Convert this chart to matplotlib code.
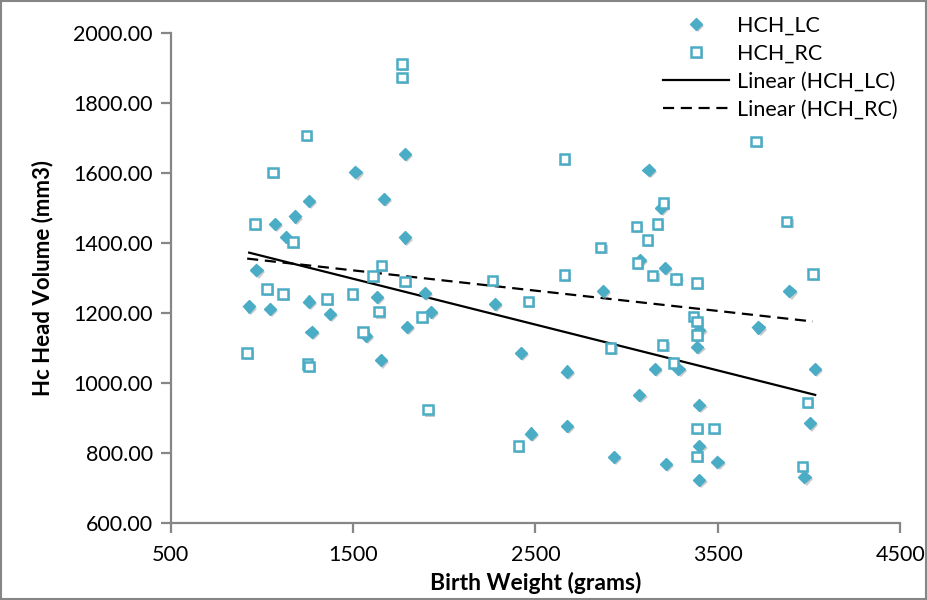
import numpy as np
import matplotlib
matplotlib.use("Agg")
import matplotlib.pyplot as plt
import matplotlib.patheffects as pe
from matplotlib.patches import Rectangle

# HCH_LC (left) values
lc_weight = [930, 970, 1043, 1071, 1131, 1180, 1257, 1259, 1272, 1372,
             1513, 1570, 1629, 1652, 1669, 1784, 1784, 1795, 1894, 1925,
             2278, 2419, 2475, 2674, 2674, 2872, 2931, 3070, 3073, 3120,
             3156, 3187, 3211, 3216, 3271, 3284, 3388, 3399, 3399, 3399,
             3399, 3498, 3723, 3893, 3975, 4006, 4034]
lc_volume = [1219, 1322, 1211, 1455, 1418, 1476, 1233, 1521, 1146, 1197,
             1602, 1136, 1247, 1065, 1527, 1654, 1416, 1160, 1257, 1204,
             1227, 1086, 856, 1033, 878, 1262, 790, 966, 1352, 1609,
             1041, 1500, 1329, 769, 1297, 1041, 1103, 1152, 937, 821,
             724, 774, 1159, 1262, 731, 885, 1041]

# HCH_RC (right)
rc_weight = [919, 961, 1028, 1061, 1116, 1171, 1245, 1250, 1258, 1358,
             1497, 1555, 1610, 1641, 1656, 1769, 1769, 1784, 1879, 1910,
             2263, 2406, 2461, 2658, 2658, 2858, 2913, 3055, 3059, 3114,
             3143, 3168, 3198, 3201, 3256, 3271, 3366, 3385, 3385, 3385,
             3385, 3385, 3479, 3710, 3878, 3964, 3991, 4021]
rc_volume = [1086, 1455, 1269, 1602, 1255, 1403, 1707, 1055, 1048, 1240,
             1255, 1146, 1306, 1204, 1336, 1912, 1873, 1290, 1189, 924,
             1293, 821, 1233, 1640, 1309, 1387, 1100, 1447, 1343, 1409,
             1307, 1455, 1109, 1514, 1057, 1297, 1190, 1286, 1176, 1138,
             871, 790, 871, 1690, 1462, 762, 945, 1312]

x_ticks = [500, 1500, 2500, 3500, 4500]
y_ticks = [600, 800, 1000, 1200, 1400, 1600, 1800, 2000]

teal = "#4BACC6"
gray = "#868686"

plt.rcParams['font.family'] = ['Lato', 'DejaVu Sans']

fig = plt.figure(figsize=(9.28, 6.0), dpi=100)
ax = fig.add_axes([0.184, 0.128, 0.786, 0.817])

shadow = [pe.SimplePatchShadow(offset=(1.5, -1.5), shadow_rgbFace='#999999', alpha=0.5), pe.Normal()]

ax.plot(lc_weight, lc_volume, linestyle='none', marker='D', markersize=6.2,
        color=teal, markeredgecolor=teal, label='HCH_LC', path_effects=shadow, zorder=3)
ax.plot(rc_weight, rc_volume, linestyle='none', marker='s', markersize=6.8,
        markerfacecolor='white', markeredgecolor=teal, markeredgewidth=1.8,
        label='HCH_RC', path_effects=shadow, zorder=3)

# linear trendlines (least squares, like Excel)
for xs, ys, ls, lab in [(lc_weight, lc_volume, '-', 'Linear (HCH_LC)'),
                        (rc_weight, rc_volume, (0, (5, 3)), 'Linear (HCH_RC)')]:
    k, b = np.polyfit(xs, ys, 1)
    xx = np.array([min(xs), max(xs)])
    ax.plot(xx, k * xx + b, color='black', linestyle=ls, linewidth=1.6,
            label=lab, zorder=2)

ax.set_xlim(500, 4500)
ax.set_ylim(600, 2000)
ax.set_xticks(x_ticks)
ax.set_yticks(y_ticks)
ax.set_yticklabels([f"{v:.2f}" for v in y_ticks])

for s in ['top', 'right']:
    ax.spines[s].set_visible(False)
for s in ['left', 'bottom']:
    ax.spines[s].set_color(gray)
    ax.spines[s].set_linewidth(1.6)
ax.tick_params(axis='both', colors=gray, width=1.6, length=7, labelsize=15.5,
               labelcolor='black', direction='out')
ax.tick_params(axis='y', pad=6)
ax.tick_params(axis='x', pad=9)

ax.set_xlabel('Birth Weight (grams)', fontsize=16.5, fontweight='bold', labelpad=5)
ax.set_ylabel('Hc Head Volume (mm3)', fontsize=16, fontweight='bold', labelpad=14)

leg = ax.legend(loc='upper left', bbox_to_anchor=(0.6626, 1.053), frameon=False,
                fontsize=15.5, handlelength=3.1, labelspacing=0.37,
                handletextpad=0.37, borderaxespad=0)

fig.patches.append(Rectangle((0.001, 0.001), 0.997, 0.997, transform=fig.transFigure,
                             fill=False, edgecolor=gray, linewidth=1.5))

fig.savefig('out.png', dpi=100)
